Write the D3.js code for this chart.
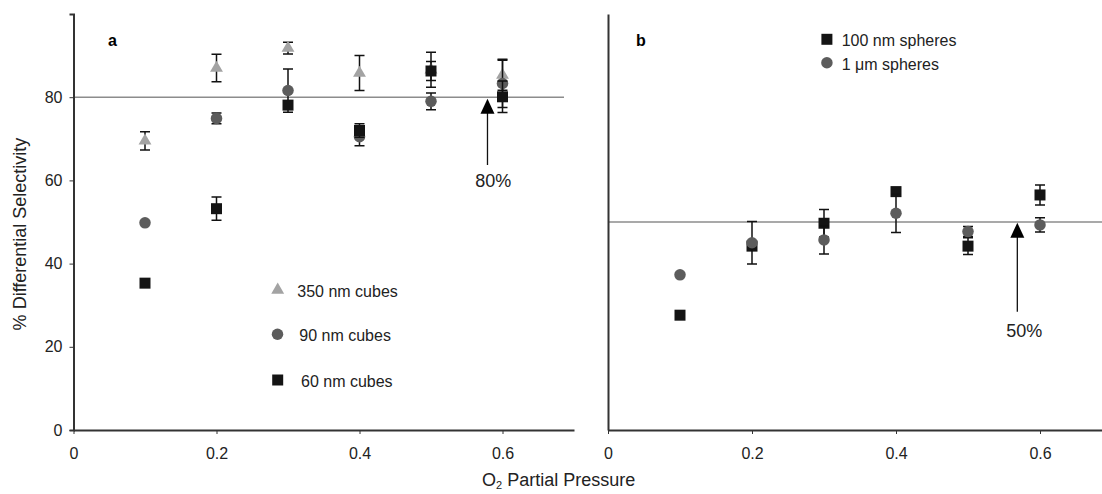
<!DOCTYPE html>
<html>
<head>
<meta charset="utf-8">
<script src="https://cdn.jsdelivr.net/npm/d3@7"></script>
<style>
  body { margin: 0; background: #fff; }
  svg { display: block; font-family: "Liberation Sans", Arial, sans-serif; }
  .axis path, .axis line { stroke: #333; }
  .axis text { font-size: 16px; fill: #222; }
</style>
</head>
<body>
<div id="chart"></div>
<script>
// --- data ---
const pressures = [0.1, 0.2, 0.3, 0.4, 0.5, 0.6];
const xTicks = [0, 0.2, 0.4, 0.6];
const yTicks = [0, 20, 40, 60, 80];

// panel a
const cubes350 = [69.5, 87.0, 91.8, 85.8, 86.6, 85.3];
const cubes350Err = [2.2, 3.3, 1.4, 4.2, 4.2, 3.6];
const cubes90 = [49.8, 74.9, 81.6, 70.5, 79.0, 83.3];
const cubes90Err = [0, 1.3, 5.2, 2.2, 2.0, 5.8];
const cubes60 = [35.3, 53.2, 78.1, 72.0, 86.3, 80.1];
const cubes60Err = [0, 2.8, 1.0, 1.6, 2.3, 3.8];

// panel b
const spheres100 = [27.6, 44.2, 49.7, 57.3, 44.2, 56.5];
const spheres100Err = [0, 1.0, 3.3, 1.0, 2.0, 2.4];
const spheres1um = [37.3, 45.0, 45.7, 52.1, 47.7, 49.3];
const spheres1umErr = [0, 5.1, 3.4, 4.6, 1.2, 1.7];

const W = 1102, H = 494;
const svg = d3.select("#chart").append("svg")
    .attr("width", W).attr("height", H);

const y = d3.scaleLinear().domain([0, 100]).range([430, 14]);
const xA = d3.scaleLinear().domain([0, 0.7]).range([73.5, 574]);
const xB = d3.scaleLinear().domain([0, 0.7]).range([608, 1112]);

const fmt = d => d === 0 ? "0" : d3.format(".1f")(d);

const COL_TRI = "#a3a3a3", COL_CIR = "#5c5c5c", COL_SQ = "#141414";
const symbols = {
    tri: d3.symbol().type(d3.symbolTriangle).size(72),
    cir: d3.symbol().type(d3.symbolCircle).size(104),
    sq: d3.symbol().type(d3.symbolSquare).size(121)
};

function drawAxes(x, withYLabels) {
    svg.append("g").attr("class", "axis")
        .attr("transform", `translate(0,${y(0)})`)
        .call(d3.axisBottom(x).tickValues(xTicks).tickFormat(fmt)
            .tickSize(4).tickSizeOuter(0).tickPadding(14))
        .call(g => g.select(".domain").attr("stroke-width", 2.2))
        .call(g => g.selectAll(".tick line").attr("stroke", "#888"));

    const yAxis = d3.axisLeft(y).tickSizeOuter(0);
    if (withYLabels) yAxis.tickValues(yTicks).tickSize(4).tickPadding(7);
    else yAxis.tickValues([]);
    svg.append("g").attr("class", "axis")
        .attr("transform", `translate(${x(0)},0)`)
        .call(yAxis)
        .call(g => g.select(".domain").attr("stroke-width", 2))
        .call(g => g.selectAll(".tick line").attr("stroke", "#888"));
}

function refLine(x, value, x2) {
    svg.append("line")
        .attr("x1", x(0)).attr("x2", x2)
        .attr("y1", y(value)).attr("y2", y(value))
        .attr("stroke", "#8c8c8c").attr("stroke-width", 1.6);
}

function series(x, vals, errs, sym, color) {
    const g = svg.append("g");
    const rows = pressures.map((p, i) => ({ p, v: vals[i], e: errs[i] }));
    const withErr = rows.filter(d => d.e > 0);
    g.selectAll(".eb").data(withErr).enter().append("path")
        .attr("fill", "none").attr("stroke", "#111").attr("stroke-width", 1.5)
        .attr("d", d => {
            const cx = x(d.p), t = y(d.v + d.e), b = y(d.v - d.e);
            return `M${cx - 5},${t}H${cx + 5}M${cx},${t}V${b}M${cx - 5},${b}H${cx + 5}`;
        });
    g.selectAll(".pt").data(rows).enter().append("path")
        .attr("d", symbols[sym])
        .attr("fill", color)
        .attr("transform", d => `translate(${x(d.p)},${y(d.v)})`);
}

function arrow(x, px, yFrom, yTip, label, lx, ly) {
    const tx = x(px), ty = y(yTip);
    svg.append("line")
        .attr("x1", tx).attr("x2", tx)
        .attr("y1", y(yFrom)).attr("y2", ty + 10)
        .attr("stroke", "#111").attr("stroke-width", 1.3);
    svg.append("path")
        .attr("d", `M${tx},${ty}L${tx + 7},${ty + 15}L${tx - 7},${ty + 15}Z`)
        .attr("fill", "#000");
    svg.append("text")
        .attr("x", x(lx)).attr("y", y(ly))
        .attr("text-anchor", "middle")
        .attr("font-size", 18).attr("fill", "#222")
        .text(label);
}

function legendItem(px, py, sym, color, label, dx) {
    svg.append("path").attr("d", symbols[sym]).attr("fill", color)
        .attr("transform", `translate(${px},${py})`);
    svg.append("text")
        .attr("x", px + dx).attr("y", py + 7)
        .attr("font-size", 16).attr("fill", "#222")
        .text(label);
}

// --- panel a ---
refLine(xA, 80, 564);
drawAxes(xA, true);
series(xA, cubes350, cubes350Err, "tri", COL_TRI);
series(xA, cubes90, cubes90Err, "cir", COL_CIR);
series(xA, cubes60, cubes60Err, "sq", COL_SQ);
arrow(xA, 0.579, 63.7, 79.6, "80%", 0.587, 58.4);

svg.append("text").attr("x", 108).attr("y", 46)
    .attr("font-size", 16).attr("font-weight", "bold").text("a");
legendItem(277.7, 290, "tri", COL_TRI, "350 nm cubes", 19.6);
legendItem(277.5, 334.3, "cir", COL_CIR, "90 nm cubes", 21.8);
legendItem(277.7, 380, "sq", COL_SQ, "60 nm cubes", 23.3);

// --- panel b ---
refLine(xB, 50, 1102);
drawAxes(xB, false);
series(xB, spheres100, spheres100Err, "sq", COL_SQ);
series(xB, spheres1um, spheres1umErr, "cir", COL_CIR);
arrow(xB, 0.5685, 28.4, 49.8, "50%", 0.578, 22.4);

svg.append("text").attr("x", 636).attr("y", 46)
    .attr("font-size", 16).attr("font-weight", "bold").text("b");
legendItem(826.9, 39.3, "sq", COL_SQ, "100 nm spheres", 14.8);
legendItem(826.9, 62.7, "cir", COL_CIR, "1 μm spheres", 14.8);

// --- axis titles ---
const xt = svg.append("text")
    .attr("x", 482).attr("y", 486)
    .attr("font-size", 18).attr("fill", "#222");
xt.append("tspan").text("O");
xt.append("tspan").attr("font-size", 11).attr("dy", 3).text("2");
xt.append("tspan").attr("dy", -3).text(" Partial Pressure");

svg.append("text")
    .attr("transform", `translate(26,234) rotate(-90)`)
    .attr("text-anchor", "middle")
    .attr("font-size", 18).attr("fill", "#222")
    .text("% Differential Selectivity");
</script>
</body>
</html>
